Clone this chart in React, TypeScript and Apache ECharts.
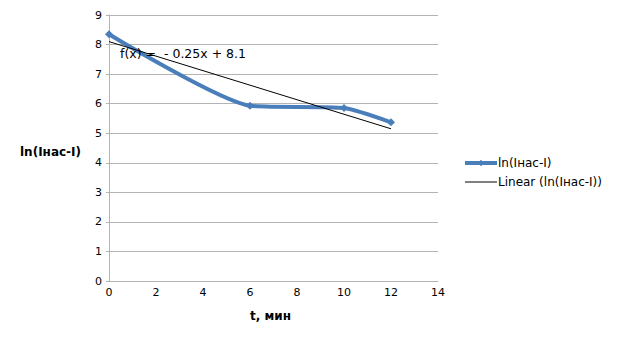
import React, { useEffect, useRef } from "react";
import * as echarts from "echarts";

const timeMin = [0, 6, 10, 12];
const lnValues = [8.35, 5.93, 5.85, 5.37];
const trendT = [0, 12];
const trendValues = [8.1, 5.15];
const seriesName = "ln(Iнас-I)";
const trendName = "Linear (ln(Iнас-I))";
const equationText = "f(x) =  - 0.25x + 8.1";
const xTitle = "t, мин";
const yTitle = "ln(Iнас-I)";

export default function App() {
  const ref = useRef<HTMLDivElement>(null);
  useEffect(() => {
    if (!ref.current) return;
    const chart = echarts.init(ref.current, undefined, { renderer: "svg" });
    const font = "DejaVu Sans";
    chart.setOption({
      animation: false,
      backgroundColor: "#ffffff",
      textStyle: { fontFamily: font },
      grid: { left: 109, right: 180, top: 15, bottom: 64, containLabel: false },
      legend: {
        orient: "vertical",
        left: 458,
        top: 152,
        itemWidth: 32,
        itemHeight: 8,
        itemGap: 7,
        textStyle: { fontFamily: font, fontSize: 12, color: "#000", padding: [0, 0, 0, -4] },
        data: [
          { name: seriesName, lineStyle: { width: 4 } },
          { name: trendName, itemStyle: { opacity: 0 }, lineStyle: { width: 1 } },
        ],
      },
      xAxis: {
        type: "value",
        min: 0,
        max: 14,
        interval: 2,
        axisLine: { lineStyle: { color: "#b3b3b3", width: 1 } },
        axisTick: { show: false },
        splitLine: { show: false },
        axisLabel: { color: "#000", fontSize: 11, fontFamily: font, margin: 6 },
      },
      yAxis: {
        type: "value",
        min: 0,
        max: 9,
        interval: 1,
        axisLine: { show: true, lineStyle: { color: "#b3b3b3", width: 1 } },
        axisTick: { show: true, length: 3, lineStyle: { color: "#b3b3b3" } },
        splitLine: { show: true, lineStyle: { color: "#b3b3b3", width: 1 } },
        axisLabel: { color: "#000", fontSize: 11, fontFamily: font, margin: 7 },
      },
      graphic: [
        {
          type: "text",
          left: 20,
          top: 146,
          style: { text: yTitle, fontFamily: font, fontSize: 12, fontWeight: "bold", fill: "#000" },
        },
        {
          type: "text",
          left: 250,
          top: 310,
          style: { text: xTitle, fontFamily: font, fontSize: 12, fontWeight: "bold", fill: "#000" },
        },
        {
          type: "text",
          left: 120,
          top: 47,
          style: { text: equationText, fontFamily: font, fontSize: 12.5, fill: "#000", whiteSpace: "pre" },
          z: 10,
        },
      ],
      series: [
        {
          name: seriesName,
          type: "line",
          smooth: 0.2,
          data: timeMin.map((t, i) => [t, lnValues[i]]),
          symbol: "diamond",
          symbolSize: 8,
          itemStyle: { color: "#4a7ebb" },
          lineStyle: { color: "#4a7ebb", width: 4 },
          z: 3,
        },
        {
          name: trendName,
          type: "line",
          data: trendT.map((t, i) => [t, trendValues[i]]),
          symbol: "none",
          itemStyle: { color: "#000" },
          lineStyle: { color: "#000", width: 1 },
          z: 4,
        },
      ],
    });
    return () => chart.dispose();
  }, []);
  return <div ref={ref} style={{ width: 618, height: 345, position: "absolute", left: 0, top: 0 }} />;
}
